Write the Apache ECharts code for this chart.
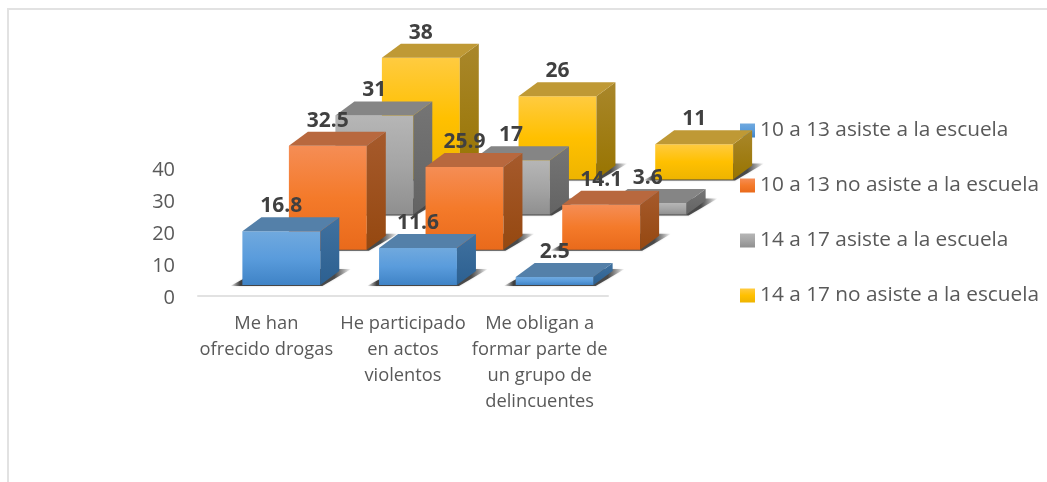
<!DOCTYPE html>
<html><head><meta charset="utf-8">
<style>html,body{margin:0;padding:0;background:#fff}#c{width:1047px;height:482px}</style>
<script src="https://cdn.jsdelivr.net/npm/echarts@6/dist/echarts.min.js"></script>
</head><body><div id="c"></div>
<script>
var categories = ['Me han\nofrecido drogas', 'He participado\nen actos\nviolentos', 'Me obligan a\nformar parte de\nun grupo de\ndelincuentes'];
var seriesNames = ['10 a 13 asiste a la escuela', '10 a 13 no asiste a la escuela', '14 a 17 asiste a la escuela', '14 a 17 no asiste a la escuela'];
var asiste1013 = [16.8, 11.6, 2.5];
var noAsiste1013 = [32.5, 25.9, 14.1];
var asiste1417 = [31, 17, 3.6];
var noAsiste1417 = [38, 26, 11];
var seriesValues = [asiste1013, noAsiste1013, asiste1417, noAsiste1417];
var yTicks = {min: 0, max: 40, interval: 10};

var palette = [
  {front: ['#70a9de', '#5a9cdc', '#3f83c6'], side: ['#40719f', '#2c6091'], top: '#5480a9'},
  {front: ['#f58d55', '#f47a2a', '#e96a1b'], side: ['#a65a2c', '#954810'], top: '#b8683e'},
  {front: ['#b6b6b6', '#a5a5a5', '#8f8f8f'], side: ['#757575', '#636363'], top: '#858585'},
  {front: ['#ffcb40', '#ffc000', '#eeb400'], side: ['#a9872b', '#987400'], top: '#bf9935'}
];
var depthX = 19, depthY = 14, stepX = 46.5, stepY = 35.2, baseX = 15, baseY = 11, barRatio = 0.57;

function grad(stops) {
  return {type: 'linear', x: 0, y: 0, x2: 0, y2: 1, colorStops: stops.map(function (c, i) {
    return {offset: stops.length === 1 ? 0 : i / (stops.length - 1), color: c};
  })};
}
function poly(points, fill) {
  return {type: 'polygon', shape: {points: points}, style: {fill: fill}};
}
function makeRender(idx) {
  return function (params, api) {
    var cat = api.value(0), val = api.value(1);
    var p0 = api.coord([cat, 0]), p1 = api.coord([cat, val]);
    var w = api.size([1, 0])[0] * barRatio;
    var cx = p0[0] + baseX + stepX * idx;
    var off = baseY + stepY * idx;
    var x0 = cx - w / 2, x1 = cx + w / 2, yb = p0[1] - off, yt = p1[1] - off;
    var c = palette[idx];
    var shadowFill = {type: 'linear', x: 0, y: 0, x2: 1, y2: 0, colorStops: [
      {offset: 0, color: 'rgba(40,40,40,0)'}, {offset: 0.08, color: 'rgba(40,40,40,0.85)'},
      {offset: 0.86, color: 'rgba(40,40,40,0.8)'}, {offset: 1, color: 'rgba(40,40,40,0)'}]};
    return {type: 'group', children: [
      {type: 'polygon', shape: {points: [[x0 - 12, yb + 1], [x1 + 2, yb + 1], [x1 + depthX + 12, yb - depthY - 2], [x0 + depthX, yb - depthY - 2]]},
        style: {fill: shadowFill, shadowBlur: 2, shadowColor: 'rgba(50,50,50,0.3)'}},
      poly([[x0, yb], [x1, yb], [x1, yt], [x0, yt]], grad(c.front)),
      poly([[x1, yb], [x1 + depthX, yb - depthY], [x1 + depthX, yt - depthY], [x1, yt]], grad(c.side)),
      poly([[x0, yt], [x1, yt], [x1 + depthX, yt - depthY], [x0 + depthX, yt - depthY]], c.top),
      {type: 'text', style: {text: String(val), x: cx, y: yt - 25, align: 'center', verticalAlign: 'middle',
        fill: '#404040', font: 'bold 21px "Open Sans"'}}
    ]};
  };
}
var series = seriesNames.map(function (name, i) {
  return {
    type: 'custom', name: name, coordinateSystem: 'cartesian2d', z: 10 - i,
    renderItem: makeRender(i),
    encode: {x: 0, y: 1},
    itemStyle: {color: grad(palette[i].front)},
    data: seriesValues[i].map(function (v, k) { return [k, v]; })
  };
});
var chart = echarts.init(document.getElementById('c'), null, {renderer: 'canvas'});
chart.setOption({
  animation: false,
  backgroundColor: '#fff',
  grid: {left: 198, right: 439, top: 168, bottom: 186, containLabel: false},
  legend: {
    orient: 'vertical', left: 735, top: 115, itemWidth: 15, itemHeight: 14, itemGap: 34,
    icon: 'rect', data: seriesNames,
    textStyle: {color: '#595959', fontFamily: '"Open Sans"', fontSize: 20.8, lineHeight: 20}
  },
  xAxis: {
    type: 'category', data: categories,
    axisLine: {lineStyle: {color: '#e2e2e2', width: 2}}, axisTick: {show: false},
    axisLabel: {interval: 0, color: '#595959', fontFamily: '"Open Sans"', fontSize: 18.3, lineHeight: 26, margin: 15}
  },
  yAxis: {
    type: 'value', min: yTicks.min, max: yTicks.max, interval: yTicks.interval,
    axisLine: {show: false}, axisTick: {show: false}, splitLine: {show: false},
    axisLabel: {margin: 23, formatter: '{t|{value}}',
      rich: {t: {color: '#595959', fontFamily: '"Open Sans"', fontSize: 20, padding: [4, 0, 0, 0]}}}
  },
  graphic: [
    {type: 'line', silent: true, shape: {x1: 8, y1: 9, x2: 1047, y2: 9}, style: {stroke: '#e2e2e2', lineWidth: 2}},
    {type: 'line', silent: true, shape: {x1: 8, y1: 8, x2: 8, y2: 482}, style: {stroke: '#e2e2e2', lineWidth: 2}}
  ],
  series: series
});
</script></body></html>
